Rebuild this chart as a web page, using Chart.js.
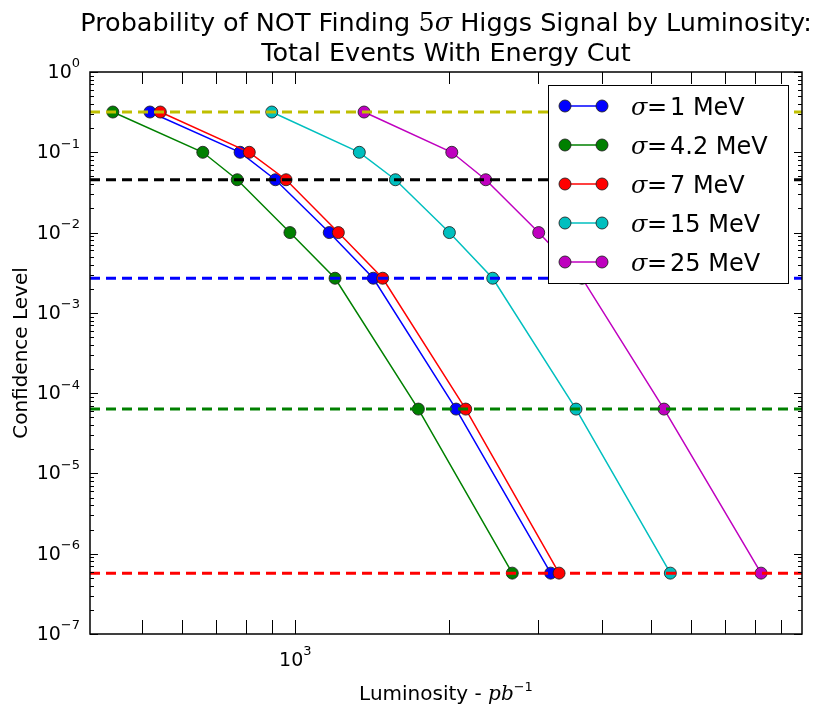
<!DOCTYPE html>
<html>
<head>
<meta charset="utf-8">
<script src="https://cdn.jsdelivr.net/npm/chart.js@4/dist/chart.umd.min.js"></script>
<style>
  html, body { margin: 0; padding: 0; background: #fff; }
  canvas { display: block; }
</style>
</head>
<body>
<canvas id="c" width="820" height="711"></canvas>
<script>
// Confidence level reached at each luminosity step (shared by every series)
const confidenceLevels = [0.3173, 0.1, 0.0455, 0.01, 0.0027, 6.33e-5, 5.73e-7];

// Integrated luminosity (pb^-1) needed for each confidence level, per mass resolution
const lumiSigma1   = [518, 779, 914, 1166, 1423, 2070, 3176];
const lumiSigma4p2 = [438, 658, 769, 976, 1197, 1745, 2669];
const lumiSigma7   = [543, 812, 959, 1215, 1485, 2162, 3298];
const lumiSigma15  = [899, 1336, 1573, 2008, 2443, 3561, 5457];
const lumiSigma25  = [1365, 2030, 2367, 3008, 3659, 5303, 8226];

// Resolution values shown in the legend (MeV)
const sigmaLabels = ['1', '4.2', '7', '15', '25'];

// Reference levels: 1σ, 2σ, 3σ, 4σ, 5σ two-sided Gaussian tails
const thresholdLevels = [0.3173, 0.0455, 0.0027, 6.33e-5, 5.73e-7];

// Axis ranges and labelled decades (exponents of ten)
const xRange = [395, 9900];
const yRange = [1e-7, 1];
const xTickExponents = [3];
const yTickExponents = [-7, -6, -5, -4, -3, -2, -1, 0];

const seriesColors = ['#0000ff', '#008000', '#ff0000', '#00bfbf', '#bf00bf'];
const thresholdColors = ['#bfbf00', '#000000', '#0000ff', '#008000', '#ff0000'];
const seriesLumis = [lumiSigma1, lumiSigma4p2, lumiSigma7, lumiSigma15, lumiSigma25];

const datasets = [];
seriesLumis.forEach((lumi, i) => {
  datasets.push({
    label: 'σ=' + sigmaLabels[i] + ' MeV',
    data: lumi.map((x, k) => ({ x: x, y: confidenceLevels[k] })),
    showLine: true,
    borderColor: seriesColors[i],
    backgroundColor: seriesColors[i],
    borderWidth: 1.5,
    pointRadius: 6,
    pointHoverRadius: 6,
    pointBackgroundColor: seriesColors[i],
    pointBorderColor: 'rgba(30,30,30,0.85)',
    pointBorderWidth: 1,
    order: 5 - i
  });
});
thresholdLevels.forEach((lvl, i) => {
  datasets.push({
    label: 'threshold',
    data: [{ x: xRange[0], y: lvl }, { x: xRange[1], y: lvl }],
    showLine: true,
    borderColor: thresholdColors[i],
    borderWidth: 3,
    borderDash: [10, 6],
    pointRadius: 0,
    order: 0
  });
});

const SANS = '"DejaVu Sans"';
const SERIF = '"DejaVu Serif"';
const expText = e => (e < 0 ? '−' + (-e) : String(e));

// Draws "10" with a raised exponent; (ax, ay) anchors the base text
function drawPow10(ctx, e, ax, ay, align) {
  const baseFont = '19px ' + SANS, supFont = '13px ' + SANS;
  ctx.font = baseFont;
  const wb = ctx.measureText('10').width;
  ctx.font = supFont;
  const ws = ctx.measureText(expText(e)).width;
  const x0 = align === 'right' ? ax - wb - ws : ax - (wb + ws) / 2;
  ctx.textAlign = 'left';
  ctx.textBaseline = 'middle';
  ctx.font = baseFont;
  ctx.fillText('10', x0, ay);
  ctx.font = supFont;
  ctx.fillText(expText(e), x0 + wb, ay - 9);
}

// Draws a run of [text, font, dy] pieces centred on cx
function drawRuns(ctx, runs, cx, baseline) {
  let w = 0;
  runs.forEach(r => { ctx.font = r[1]; w += ctx.measureText(r[0]).width; });
  let xx = cx - w / 2;
  ctx.textAlign = 'left';
  ctx.textBaseline = 'alphabetic';
  runs.forEach(r => {
    ctx.font = r[1];
    ctx.fillText(r[0], xx, baseline + (r[2] || 0));
    xx += ctx.measureText(r[0]).width;
  });
}

// Frame with inward ticks on all four sides, decade labels and x-axis title
const frameTicks = {
  id: 'frameTicks',
  afterDatasetsDraw(chart) {
    const { ctx, chartArea: a, scales: { x, y } } = chart;
    ctx.save();
    ctx.strokeStyle = '#000';
    ctx.lineWidth = 1;
    const seg = (x1, y1, x2, y2) => { ctx.beginPath(); ctx.moveTo(x1, y1); ctx.lineTo(x2, y2); ctx.stroke(); };
    for (let e = 2; e <= 4; e++) {
      for (let m = 1; m <= 9; m++) {
        const v = m * Math.pow(10, e);
        if (v < x.min || v > x.max) continue;
        const px = Math.round(x.getPixelForValue(v)) + 0.5;
        if (px - a.left < 4 || a.right - px < 4) continue;
        seg(px, a.bottom, px, a.bottom - 14);
        seg(px, a.top, px, a.top + 12);
      }
    }
    for (let e = -7; e <= 0; e++) {
      for (let m = 1; m <= 9; m++) {
        const v = m * Math.pow(10, e);
        if (v < y.min * 0.999 || v > y.max * 1.001) continue;
        const py = Math.round(y.getPixelForValue(v)) + 0.5;
        const len = m === 1 ? 8 : 4;
        seg(a.left, py, a.left + len, py);
        seg(a.right, py, a.right - len, py);
      }
    }
    ctx.lineWidth = 1.5;
    ctx.strokeRect(a.left, a.top, a.right - a.left, a.bottom - a.top);

    ctx.fillStyle = '#000';
    yTickExponents.forEach(e => {
      drawPow10(ctx, e, a.left - 10, y.getPixelForValue(Math.pow(10, e)) + 1, 'right');
    });
    xTickExponents.forEach(e => {
      drawPow10(ctx, e, x.getPixelForValue(Math.pow(10, e)), a.bottom + 27, 'center');
    });

    drawRuns(ctx, [
      ['Luminosity - ', '20px ' + SANS],
      ['pb', 'italic 20px ' + SERIF],
      ['−1', '13px ' + SANS, -9]
    ], (a.left + a.right) / 2, a.bottom + 66);
    ctx.restore();
  }
};

// Two-line title centred over the plot area
const titlePlugin = {
  id: 'titleText',
  afterDraw(chart) {
    const { ctx, chartArea: a } = chart;
    const cx = (a.left + a.right) / 2;
    const size = 25.5;
    const sans = size + 'px ' + SANS;
    ctx.save();
    ctx.fillStyle = '#000';
    drawRuns(ctx, [
      ['Probability of NOT Finding ', sans],
      ['5', size + 'px ' + SERIF],
      ['σ', 'italic ' + size + 'px ' + SERIF],
      [' Higgs Signal by Luminosity:', sans]
    ], cx, 31);
    drawRuns(ctx, [['Total Events With Energy Cut', sans]], cx, 61);
    ctx.restore();
  }
};

// Boxed legend in the upper right of the plot area
const legendBox = {
  id: 'legendBox',
  afterDraw(chart) {
    const { ctx, chartArea: a } = chart;
    const bx = a.right - 254, by = a.top + 13, bw = 240, bh = 198;
    ctx.save();
    ctx.fillStyle = '#fff';
    ctx.fillRect(bx, by, bw, bh);
    ctx.strokeStyle = '#000';
    ctx.lineWidth = 1;
    ctx.strokeRect(bx + 0.5, by + 0.5, bw, bh);
    const size = 24;
    sigmaLabels.forEach((lab, i) => {
      const cy = by + 21 + i * 39;
      const x1 = bx + 17, x2 = bx + 54;
      ctx.strokeStyle = seriesColors[i];
      ctx.lineWidth = 1.5;
      ctx.beginPath(); ctx.moveTo(x1, cy); ctx.lineTo(x2, cy); ctx.stroke();
      [x1, x2].forEach(px => {
        ctx.beginPath(); ctx.arc(px, cy, 6, 0, Math.PI * 2);
        ctx.fillStyle = seriesColors[i]; ctx.fill();
        ctx.strokeStyle = 'rgba(30,30,30,0.85)'; ctx.lineWidth = 1; ctx.stroke();
      });
      ctx.fillStyle = '#000';
      ctx.textAlign = 'left';
      ctx.textBaseline = 'alphabetic';
      const base = cy + 9;
      ctx.font = 'italic ' + size + 'px ' + SERIF;
      ctx.fillText('σ', bx + 83, base);
      ctx.font = size + 'px ' + SANS;
      ctx.fillText('=', bx + 99, base);
      ctx.fillText(lab + ' MeV', bx + 122, base);
    });
    ctx.restore();
  }
};

new Chart(document.getElementById('c'), {
  type: 'scatter',
  data: { datasets: datasets },
  options: {
    responsive: false,
    animation: false,
    layout: { padding: { top: 72, right: 18, left: 0, bottom: 0 } },
    plugins: {
      legend: { display: false },
      tooltip: { enabled: false },
      title: { display: false }
    },
    scales: {
      x: {
        type: 'logarithmic',
        min: xRange[0],
        max: xRange[1],
        grid: { display: false, drawTicks: false },
        border: { display: false },
        ticks: { display: false },
        title: { display: false },
        afterFit: s => { s.height = 77; }
      },
      y: {
        type: 'logarithmic',
        min: yRange[0],
        max: yRange[1],
        grid: { display: false, drawTicks: false },
        border: { display: false },
        ticks: { display: false },
        title: {
          display: true,
          text: 'Confidence Level',
          color: '#000',
          font: { family: 'DejaVu Sans', size: 20 },
          padding: { top: 10, bottom: 0 }
        },
        afterFit: s => { s.width = 90; }
      }
    }
  },
  plugins: [frameTicks, titlePlugin, legendBox]
});
</script>
</body>
</html>
